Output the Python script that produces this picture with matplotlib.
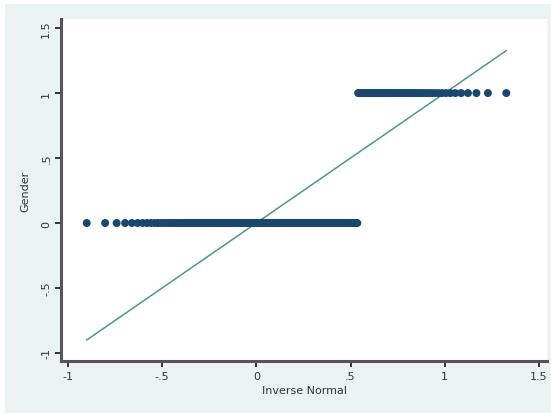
import matplotlib
matplotlib.use("Agg")
import matplotlib.pyplot as plt
from matplotlib.patches import Rectangle
from statistics import NormalDist
import numpy as np

# Gender coded 0/1, counts per group
gender_codes = [0, 1]
gender_counts = [236, 64]

x_ticks = [-1, -0.5, 0, 0.5, 1, 1.5]
x_tick_labels = ["-1", "-.5", "0", ".5", "1", "1.5"]
y_ticks = [-1, -0.5, 0, 0.5, 1, 1.5]
y_tick_labels = ["-1", "-.5", "0", ".5", "1", "1.5"]

marker_color = "#1a476f"
line_color = "#4f9688"
region_color = "#eaf2f3"


# quantiles of the variable against normal quantiles with the same mean and sd
def qnorm_points(values):
    values = np.sort(np.asarray(values, dtype=float))
    n = len(values)
    mean = values.mean()
    sd = values.std(ddof=1)
    nd = NormalDist()
    inv = np.array([nd.inv_cdf(i / (n + 1)) for i in range(1, n + 1)])
    return mean + sd * inv, values


gender = np.repeat(gender_codes, gender_counts)
xq, yq = qnorm_points(gender)

fig = plt.figure(figsize=(5.51, 4.14), dpi=100)
fig.patch.set_facecolor("white")
fig.patches.append(Rectangle((5 / 551, 0), 546 / 551, 409 / 414,
                             transform=fig.transFigure, facecolor=region_color,
                             edgecolor="none", zorder=-1))

ax = fig.add_axes([61 / 551, 1 - 362 / 414, 486 / 551, 342 / 414])
ax.set_zorder(1)
ax.set_facecolor("white")

ax.plot([xq.min(), xq.max()], [xq.min(), xq.max()], color=line_color, lw=1.1, zorder=2)
ax.scatter(xq, yq, s=33, color=marker_color, edgecolors="none", zorder=3)

ax.set_xlim(-1.037, 1.543)
ax.set_ylim(-1.062, 1.57)

ax.set_xticks(x_ticks)
ax.set_xticklabels(x_tick_labels)
ax.set_yticks(y_ticks)
ax.set_yticklabels(y_tick_labels, rotation=90, va="center")

for side in ["top", "right"]:
    ax.spines[side].set_visible(False)
for side in ["left", "bottom"]:
    ax.spines[side].set_color("#555555")
    ax.spines[side].set_linewidth(2.2)

ax.tick_params(axis="both", direction="out", length=4, width=1.4, color="#333333",
               labelsize=8, labelcolor="#333333", pad=3)

ax.set_xlabel("Inverse Normal", fontsize=8, color="#333333", labelpad=3)
ax.set_ylabel("Gender", fontsize=8, color="#333333", labelpad=8)

fig.savefig("out.png", dpi=100, facecolor=fig.get_facecolor())
